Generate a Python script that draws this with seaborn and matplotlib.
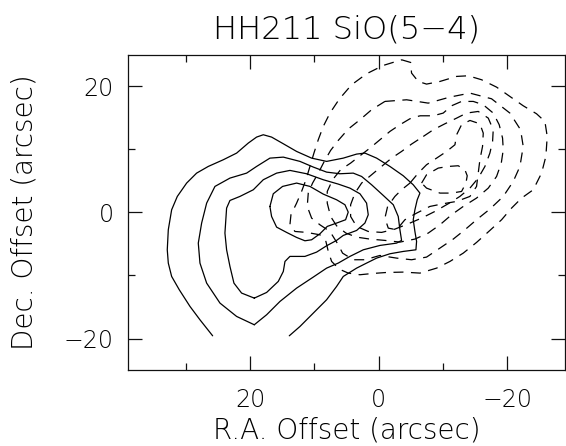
import numpy as np
import pandas as pd
import matplotlib
matplotlib.use("Agg")
import matplotlib.pyplot as plt
import seaborn as sns
from matplotlib.ticker import MultipleLocator

# ---------------- data (arcsec offsets) ----------------
# red-shifted lobe (solid contours), outermost -> innermost
red_1_x = [25.80, 27.77, 29.32, 30.98, 32.17, 32.69, 32.85, 32.69, 32.17, 31.29, 29.84, 28.29, 26.48, 24.15, 22.07, 20.26, 18.97, 17.93, 16.64, 14.82, 12.75, 10.42, 8.09, 5.50, 3.43, 2.14, 0.32, -1.75, -3.82, -5.37, -6.41, -5.99, -5.63, -5.37, -5.63, -5.89, -5.79, -3.82, -1.75, 0.32, 1.88, 3.43, 5.50, 6.54, 8.09, 10.16, 12.23, 13.89]
red_1_y = [-19.57, -17.03, -14.91, -12.27, -10.15, -8.03, -5.92, -2.74, 0.43, 2.55, 4.67, 6.25, 7.31, 8.37, 9.43, 11.02, 11.97, 12.34, 11.97, 10.91, 9.69, 8.63, 8.11, 8.63, 9.27, 9.43, 8.63, 7.31, 5.83, 4.40, 3.08, 2.02, 0.43, -1.15, -3.01, -4.59, -5.92, -6.18, -6.55, -7.24, -8.03, -8.83, -10.15, -11.74, -13.85, -15.97, -18.09, -19.57]

red_2_x = [19.33, 22.07, 24.66, 26.73, 27.77, 28.03, 27.51, 26.73, 25.44, 23.11, 20.52, 18.97, 16.90, 14.82, 12.23, 10.16, 8.09, 6.02, 3.95, 2.65, 1.10, -0.71, -2.27, -3.04, -3.30, -3.56, -2.78, -0.19, 2.39, 4.47, 6.28, 8.09, 10.16, 12.75, 15.34, 17.41, 19.33]
red_2_y = [-17.82, -16.50, -14.38, -11.21, -8.03, -4.86, -1.68, 1.49, 4.14, 5.46, 6.25, 7.31, 8.63, 8.79, 8.11, 7.21, 6.41, 6.15, 6.25, 5.72, 4.40, 2.71, 1.23, -0.63, -2.74, -4.43, -4.86, -5.23, -5.92, -6.97, -8.03, -8.83, -10.25, -12.00, -14.12, -16.23, -17.82]

red_3_x = [19.33, 21.30, 22.49, 23.11, 23.63, 23.89, 23.63, 23.11, 21.56, 19.48, 17.93, 15.86, 13.79, 11.20, 8.61, 6.28, 4.47, 2.91, 1.88, 1.62, 2.14, 3.43, 5.50, 6.54, 8.09, 9.65, 11.46, 13.79, 14.56, 14.82, 15.60, 17.41, 19.33]
red_3_y = [-13.59, -12.79, -11.21, -8.56, -5.92, -3.27, 0.70, 1.91, 2.55, 3.61, 5.20, 6.25, 6.68, 6.15, 5.20, 4.51, 3.87, 2.97, 1.49, -0.36, -1.68, -2.85, -3.64, -4.43, -5.28, -6.29, -6.97, -6.97, -7.77, -9.36, -10.94, -12.69, -13.59]

red_4_x = [16.90, 16.38, 14.93, 12.75, 10.68, 8.61, 6.54, 5.24, 4.73, 5.14, 6.54, 7.99, 9.13, 10.42, 11.46, 12.75, 14.31, 15.86, 16.64, 16.90]
red_4_y = [0.96, 2.97, 4.14, 4.67, 4.14, 2.92, 2.02, 1.23, 0.06, -1.15, -1.68, -2.21, -3.38, -4.33, -4.49, -3.96, -3.16, -2.32, -0.63, 0.96]

# blue-shifted lobe (dashed contours), outermost -> innermost
blue_1_x = [-3.56, -4.96, -5.11, -6.15, -7.44, -9.52, -12.11, -13.92, -15.99, -18.32, -20.39, -22.46, -24.53, -25.83, -26.19, -25.98, -25.31, -24.02, -22.20, -20.65, -19.10, -17.28, -15.21, -13.14, -11.07, -9.00, -6.41, -3.82, -1.23, 0.84, 2.91, 4.73, 6.12, 7.31, 7.83, 8.20, 9.13, 11.20, 13.01, 13.79, 13.63, 12.75, 11.98, 11.30, 10.68, 10.06, 9.39, 8.61, 7.57, 6.12, 4.21, 1.88, -0.71, -3.56]
blue_1_y = [24.24, 23.82, 22.13, 20.80, 20.38, 20.80, 21.60, 21.70, 21.07, 19.90, 18.42, 16.94, 15.67, 14.45, 12.07, 8.90, 6.25, 3.61, 2.28, 0.70, -1.15, -2.85, -4.75, -6.45, -7.77, -8.83, -9.62, -9.46, -9.52, -9.67, -9.88, -9.62, -8.99, -7.77, -6.18, -4.59, -3.54, -3.16, -3.01, -1.95, -0.36, 1.49, 3.34, 5.20, 7.31, 9.43, 11.54, 13.66, 15.78, 18.00, 20.27, 22.02, 23.34, 24.24]

blue_2_x = [-0.97, -4.34, -7.70, -11.07, -14.18, -17.54, -20.39, -22.05, -22.46, -21.95, -20.91, -19.36, -17.28, -15.21, -13.40, -11.59, -9.52, -7.44, -5.11, -2.78, -0.19, 2.14, 3.95, 5.61, 6.28, 7.57, 9.13, 10.42, 11.10, 10.94, 10.27, 9.39, 8.45, 7.47, 6.28, 4.73, 2.91, 1.10, -0.97]
blue_2_y = [17.63, 17.89, 17.36, 18.32, 18.95, 18.05, 15.78, 13.13, 10.49, 7.31, 4.93, 2.55, 0.54, -1.15, -2.74, -4.22, -5.65, -7.08, -7.50, -7.24, -6.82, -7.50, -7.50, -6.45, -5.12, -3.01, -1.95, -0.89, 0.96, 3.08, 4.67, 6.25, 8.11, 9.85, 11.44, 13.24, 14.72, 16.31, 17.63]

blue_3_x = [-6.41, -8.48, -10.03, -11.33, -12.88, -14.70, -16.25, -17.80, -18.73, -19.25, -19.36, -19.05, -18.32, -17.03, -15.21, -13.14, -11.33, -9.52, -7.70, -5.63, -3.30, -0.97, 1.36, 3.43, 5.09, 6.54, 7.47, 7.99, 7.99, 7.16, 5.92, 4.36, 2.91, 1.36, -0.19, -1.75, -3.30, -4.86, -6.41]
blue_3_y = [15.35, 15.35, 15.78, 16.94, 17.63, 17.63, 17.10, 15.78, 13.93, 11.81, 9.96, 7.84, 5.72, 3.87, 2.29, 0.96, -0.36, -1.95, -3.27, -4.22, -4.70, -4.43, -4.22, -3.91, -3.27, -2.11, -0.63, 1.49, 3.34, 5.20, 6.78, 7.84, 9.00, 10.22, 11.54, 12.87, 13.93, 14.88, 15.35]

blue_4_x = [-6.93, -8.48, -10.29, -12.11, -13.66, -15.47, -17.03, -17.80, -17.70, -17.28, -16.51, -15.47, -14.18, -12.62, -10.81, -8.74, -6.67, -4.60, -2.52, -0.45, 1.62, 3.43, 4.36, 4.36, 3.69, 2.65, 1.10, -0.45, -2.01, -3.56, -5.11, -6.93]
blue_4_y = [12.07, 13.13, 14.08, 14.98, 15.78, 16.04, 14.98, 13.13, 11.28, 9.43, 7.31, 5.46, 3.87, 2.55, 1.39, 0.17, -0.89, -1.79, -2.64, -3.16, -3.01, -2.21, -0.63, 1.23, 3.08, 4.67, 5.99, 7.31, 8.63, 9.69, 10.86, 12.07]

blue_5_x = [-4.86, -6.15, -7.44, -9.00, -10.55, -11.85, -12.11, -12.88, -14.18, -15.73, -16.25, -16.14, -15.73, -15.47, -15.21, -14.18, -12.11, -10.03, -7.96, -5.89, -4.08, -2.78, -1.49, -0.97, -1.39, -2.52, -3.56, -4.86]
blue_5_y = [4.67, 6.25, 7.58, 8.63, 9.69, 10.75, 12.34, 13.93, 14.61, 14.08, 12.60, 10.49, 8.37, 6.25, 4.14, 2.55, 1.76, 1.39, 0.96, -0.10, -1.15, -2.74, -2.48, -0.89, 0.96, 2.55, 3.61, 4.67]

blue_6_x = [-6.67, -7.44, -9.26, -10.81, -12.36, -13.40, -13.76, -13.56, -12.88, -11.33, -9.52, -7.44, -6.67]
blue_6_y = [4.67, 5.99, 7.05, 7.31, 7.42, 6.78, 5.83, 4.67, 3.34, 3.08, 3.08, 3.87, 4.67]

ra_ticks = [20, 0, -20]
dec_ticks = [-20, 0, 20]
title_text = "HH211 SiO(5\u22124)"
xlabel_text = "R.A. Offset (arcsec)"
ylabel_text = "Dec. Offset (arcsec)"

# ---------------- build long table ----------------
frames = []
contours = [
    ("red", 1, red_1_x, red_1_y), ("red", 2, red_2_x, red_2_y),
    ("red", 3, red_3_x, red_3_y), ("red", 4, red_4_x, red_4_y),
    ("blue", 1, blue_1_x, blue_1_y), ("blue", 2, blue_2_x, blue_2_y),
    ("blue", 3, blue_3_x, blue_3_y), ("blue", 4, blue_4_x, blue_4_y),
    ("blue", 5, blue_5_x, blue_5_y), ("blue", 6, blue_6_x, blue_6_y),
]
for lobe, lev, xs, ys in contours:
    frames.append(pd.DataFrame({"ra": xs, "dec": ys, "lobe": lobe,
                                "cid": f"{lobe}{lev}", "order": np.arange(len(xs))}))
df = pd.concat(frames, ignore_index=True)

# ---------------- plot ----------------
sns.set_style("white")
plt.rcParams["font.family"] = ["DejaVu Sans"]
plt.rcParams["font.weight"] = 200
plt.rcParams["axes.titleweight"] = 200
plt.rcParams["axes.labelweight"] = 200
plt.rcParams["axes.unicode_minus"] = True

fig = plt.figure(figsize=(5.66, 4.46), dpi=100)
ax = fig.add_axes([0.2256, 0.1704, 0.7726, 0.7063])

sns.lineplot(data=df, x="ra", y="dec", units="cid", style="lobe",
             estimator=None, sort=False, color="black", linewidth=0.9,
             dashes={"red": "", "blue": (8, 6)}, legend=False, ax=ax)

ax.set_xlim(39.0, -28.95)
ax.set_ylim(-25, 25)
ax.set_xticks(ra_ticks)
ax.set_yticks(dec_ticks)
ax.xaxis.set_minor_locator(MultipleLocator(10))
ax.yaxis.set_minor_locator(MultipleLocator(10))
ax.tick_params(which="both", direction="in", top=True, right=True,
               bottom=True, left=True, color="#111111", width=0.9)
ax.tick_params(which="major", length=10)
ax.tick_params(which="minor", length=5)
ax.tick_params(axis="x", which="major", pad=13, labelsize=17, labelcolor="black")
ax.tick_params(axis="y", which="major", pad=10, labelsize=17, labelcolor="black")
for s in ax.spines.values():
    s.set_visible(True)
    s.set_color("#111111")
    s.set_linewidth(0.9)

ax.set_title(title_text, fontsize=23, color="black", pad=12)
ax.set_xlabel(xlabel_text, fontsize=20, color="black", labelpad=3)
ax.set_ylabel(ylabel_text, fontsize=20, color="black", labelpad=18)

fig.savefig("out.png", dpi=100)
